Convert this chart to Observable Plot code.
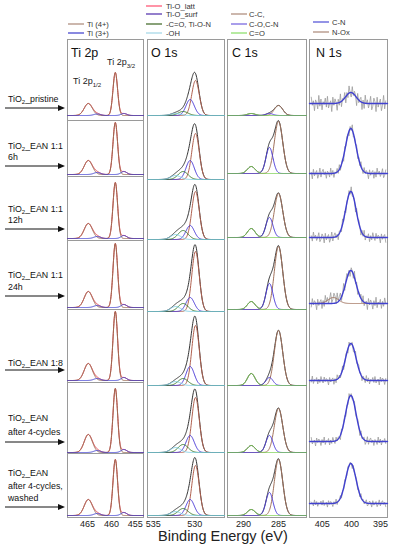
<!DOCTYPE html>
<html><head><meta charset="utf-8">
<script src="https://cdn.jsdelivr.net/npm/d3@7"></script>
<script src="https://cdn.jsdelivr.net/npm/@observablehq/plot@0.6"></script>
<style>
body{margin:0;background:#fff;font-family:"Liberation Sans",Arial,sans-serif;}
#fig{position:relative;width:394px;height:550px;overflow:hidden;background:#fff}
</style></head><body><div id="fig"></div>
<script>
// ---------- DATA ----------
const sampleLabels = [["TiO2_pristine"],["TiO2_EAN 1:1","6h"],["TiO2_EAN 1:1","12h"],["TiO2_EAN 1:1","24h"],["TiO2_EAN 1:8"],["TiO2_EAN","after 4-cycles"],["TiO2_EAN","after 4-cycles,","washed"]];
const panelTitles = ["Ti 2p","O 1s","C 1s","N 1s"];
const tiTicks = [465,460,455];
const oTicks = [535,530];
const cTicks = [290,285];
const nTicks = [405,400,395];

// Ti 2p : peak centres (eV), widths (sigma, eV), heights per sample (a.u.)
const ti4Centers = [459.2, 464.85];
const ti4Sigmas = [0.48, 0.85];
const ti4_2p32 = [43, 52, 56, 64, 69, 64, 56];
const ti4_2p12 = [12, 14, 15, 16, 17, 18, 16];
const ti3Centers = [457.4, 463.0];
const ti3Sigmas = [0.6, 0.7];
const ti3_2p32 = [2, 3, 3, 3, 3, 3, 3];
const ti3_2p12 = [1.5, 2, 2, 2, 2, 2, 2];

// O 1s
const oCenters = {latt: 529.9, surf: 530.55, co: 531.4, oh: 532.3};
const oSigmas = {latt: 0.45, surf: 0.5, co: 0.6, oh: 0.6};
const oLatt = [35, 46, 48, 60, 60, 55, 50];
const oSurf = [16, 19, 14, 14, 19, 17, 16];
const oCO = [4, 8, 9, 8, 7, 8, 7];
const oOH = [2, 4, 5, 5, 4, 5, 4];

// C 1s
const cCenters = {cc: 285.0, co: 286.3, c_o: 288.9};
const cSigmas = {cc: 0.6, co: 0.5, c_o: 0.55};
const cCC = [10, 52, 44, 63, 55, 44, 56];
const cCO = [2, 26, 20, 26, 8, 17, 23];
const cC_O = [2, 7, 9, 8, 12, 7, 6];

// N 1s
const nCenters = {cn: 400.1, nox: 403.1};
const nSigmas = {cn: 0.9, nox: 0.9};
const nCN = [11, 45, 46, 33, 37, 46, 40];
const nNOx = [0, 0, 0, 6, 0, 0, 0];
const nNoiseAmp = [9, 6, 6, 7, 5, 5, 4];
const nNoise = [0.3,-0.6,0.9,-0.2,-0.8,0.5,0.1,-0.4,0.7,-0.9,0.2,0.6,-0.3,-0.7,0.8,0.0,-0.5,0.4,-0.1,0.9,-0.6,0.3,-0.8,0.5,0.2,-0.3,0.6,-0.9,0.1,0.4,-0.2,0.7,-0.5,0.0,0.8,-0.4,0.3,-0.7,0.6,-0.1,0.2,-0.6,0.9,-0.3,0.4,-0.8,0.1,0.5,-0.2,0.7,-0.9,0.3,0.0,-0.5,0.8,-0.4,0.6,-0.1,0.2,-0.7,0.5,-0.3,0.9,-0.6,0.1,0.4,-0.8,0.3,-0.2,0.7];

// ---------- LAYOUT ----------
const TOP = 39, BOT = 517;
const fig = document.getElementById("fig");
const gauss = (e, c, s) => Math.exp(-((e - c) ** 2) / (2 * s * s));

const columns = [
  {box:[67,143], domain:[469.2,453.3], ticks:tiTicks, baselines:[115,174,238,307,380,452,515], separators:[120,176,240,309,382,453],
   envelope:{color:"#e8404f", width:1},
   comps:[
     {color:"#9a6a50", width:1, peaks:[{c:ti4Centers[0], s:ti4Sigmas[0], h:ti4_2p32},{c:ti4Centers[1], s:ti4Sigmas[1], h:ti4_2p12}]},
     {color:"#4040d0", width:1, peaks:[{c:ti3Centers[0], s:ti3Sigmas[0], h:ti3_2p32},{c:ti3Centers[1], s:ti3Sigmas[1], h:ti3_2p12}]}
   ]},
  {box:[147,224], domain:[535.7,526.4], ticks:oTicks, baselines:[115,179,239,311,385,452,515],
   envelope:{color:"#333", width:1},
   comps:[
     {color:"#b0604f", width:1, peaks:[{c:oCenters.latt, s:oSigmas.latt, h:oLatt}]},
     {color:"#4a3ad8", width:1, peaks:[{c:oCenters.surf, s:oSigmas.surf, h:oSurf}]},
     {color:"#3a7a2a", width:1, peaks:[{c:oCenters.co, s:oSigmas.co, h:oCO}]},
     {color:"#80d0e8", width:1, peaks:[{c:oCenters.oh, s:oSigmas.oh, h:oOH}]}
   ]},
  {box:[227,306], domain:[292.3,281.0], ticks:cTicks, baselines:[115,173,237,309,385,452,515],
   envelope:{color:"#333", width:1},
   comps:[
     {color:"#a0705a", width:1, peaks:[{c:cCenters.cc, s:cSigmas.cc, h:cCC}]},
     {color:"#4a3ad8", width:1, peaks:[{c:cCenters.co, s:cSigmas.co, h:cCO}]},
     {color:"#7ad050", width:1, peaks:[{c:cCenters.c_o, s:cSigmas.c_o, h:cC_O}]}
   ]},
  {box:[309,387], domain:[407.2,393.8], ticks:nTicks, baselines:[103,173,237,303,380,441,503],
   raw:true,
   comps:[
     {color:"#a0705a", width:1, peaks:[{c:nCenters.nox, s:nSigmas.nox, h:nNOx}], skipZero:true},
     {color:"#4040d0", width:1.4, peaks:[{c:nCenters.cn, s:nSigmas.cn, h:nCN}]}
   ]}
];

function buildColumn(col) {
  const [x0, x1] = col.box;
  const ml = 14, mr = 14, mt = 1, mb = 24;
  const W = x1 - x0 + ml + mr, H = BOT - TOP + mt + mb;
  const lo = Math.min(...col.domain), hi = Math.max(...col.domain);
  const es = d3.range(lo, hi + 1e-9, 0.04);
  const marks = [];
  const envData = [], rawData = [];
  const compData = col.comps.map(() => []);
  col.baselines.forEach((b, r) => {
    const off = BOT - b;
    es.forEach(e => {
      let sum = 0;
      col.comps.forEach((cp, k) => {
        let v = 0;
        cp.peaks.forEach(p => v += p.h[r] * gauss(e, p.c, p.s));
        sum += v;
        if (!(cp.skipZero && cp.peaks.every(p => p.h[r] === 0)))
          compData[k].push({e, y: off + v, row: r});
      });
      envData.push({e, y: off + sum, row: r});
    });
    if (col.raw) {
      const n = nNoise.length;
      const step = (hi - lo) / (n - 1);
      for (let i = 0; i < n; i++) {
        const e = lo + 0.3 + i * (hi - lo - 0.6) / (n - 1);
        let sum = 0;
        col.comps.forEach(cp => cp.peaks.forEach(p => sum += p.h[r] * gauss(e, p.c, p.s)));
        rawData.push({e, y: off + sum + nNoiseAmp[r] * nNoise[(i + r * 11) % n], row: r});
      }
    }
  });
  marks.push(Plot.frame({stroke: "#9a9a9a"}));
  if (col.separators) marks.push(Plot.ruleY(col.separators.map(p => BOT - p), {stroke: "#9a9a9a"}));
  if (col.raw) marks.push(Plot.line(rawData, {x: "e", y: "y", z: "row", stroke: "#9c9c9c", strokeWidth: 0.8}));
  if (col.envelope) marks.push(Plot.line(envData, {x: "e", y: "y", z: "row", stroke: col.envelope.color, strokeWidth: col.envelope.width}));
  col.comps.forEach((cp, k) => marks.push(Plot.line(compData[k], {x: "e", y: "y", z: "row", stroke: cp.color, strokeWidth: cp.width})));
  marks.push(Plot.axisX({ticks: col.ticks, tickSize: 0, tickPadding: 3, label: null, fontSize: 9, fill: "#222"}));
  const svg = Plot.plot({
    width: W, height: H,
    marginLeft: ml, marginRight: mr, marginTop: mt, marginBottom: mb,
    x: {domain: col.domain},
    y: {domain: [0, BOT - TOP], axis: null},
    style: {fontSize: "9px", fontFamily: "Liberation Sans, Arial, sans-serif", background: "transparent", overflow: "visible"},
    marks
  });
  svg.style.position = "absolute";
  svg.style.left = (x0 - ml) + "px";
  svg.style.top = (TOP - mt) + "px";
  fig.appendChild(svg);
}
columns.forEach(buildColumn);

// ---------- ANNOTATION OVERLAY ----------
const ov = d3.create("svg").attr("width", 394).attr("height", 550)
  .style("position", "absolute").style("left", "0px").style("top", "0px")
  .style("font-family", "Liberation Sans, Arial, sans-serif");

// legends
const legends = [
  {x:68, tx:87, items:[["Ti (4+)","#b09080",24],["Ti (3+)","#4a4ad0",33]]},
  {x:146, tx:166, items:[["Ti-O_latt","#ff5a78",6],["Ti-O_surf","#5a3ab0",14],["-C=O, Ti-O-N","#4a7030",24],["-OH","#a8d8e8",33]]},
  {x:231, tx:249, items:[["C-C,","#b09080",14],["C-O,C-N","#7a6ae0",24],["C=O","#90e070",33]]},
  {x:313, tx:332, items:[["C-N","#5a5ad8",22],["N-Ox","#b09080",32]]}
];
legends.forEach(L => L.items.forEach(([t, c, y]) => {
  ov.append("line").attr("x1", L.x).attr("x2", L.x + 16).attr("y1", y).attr("y2", y).attr("stroke", c).attr("stroke-width", 1.3);
  ov.append("text").attr("x", L.tx).attr("y", y + 2.7).attr("font-size", 7.6).attr("fill", "#333").text(t);
}));

// panel titles
[[71,"Ti 2p"],[151,"O 1s"],[232,"C 1s"],[316,"N 1s"]].forEach(([x, t], i) =>
  ov.append("text").attr("x", x).attr("y", 57).attr("font-size", 12.5).attr("fill", "#111").text(panelTitles[i]));

// Ti 2p peak labels
function subText(x, y, main, sub, fs) {
  const t = ov.append("text").attr("x", x).attr("y", y).attr("font-size", fs).attr("fill", "#222");
  t.append("tspan").text(main);
  t.append("tspan").attr("font-size", fs * 0.68).attr("dy", 2.5).text(sub);
}
subText(107, 65, "Ti 2p", "3/2", 9);
subText(73, 84, "Ti 2p", "1/2", 9);

// sample labels with arrows
const labelBaselines = [[102],[149,160],[212,223],[278,290],[366],[421,435],[476,489,501]];
const arrowY = [108,166,229,296,370,442,507];
sampleLabels.forEach((lines, r) => {
  lines.forEach((ln, j) => {
    const t = ov.append("text").attr("x", 8).attr("y", labelBaselines[r][j]).attr("font-size", 8.8).attr("fill", "#111");
    if (ln.startsWith("TiO2")) {
      t.append("tspan").text("TiO");
      t.append("tspan").attr("font-size", 6).attr("dy", 2).text("2");
      t.append("tspan").attr("dy", -2).text(ln.slice(4));
    } else t.text(ln);
  });
  const y = arrowY[r];
  ov.append("line").attr("x1", 5).attr("x2", 58).attr("y1", y).attr("y2", y).attr("stroke", "#111").attr("stroke-width", 1);
  ov.append("path").attr("d", `M58,${y - 3}L65,${y}L58,${y + 3}Z`).attr("fill", "#111");
});

// axis title
ov.append("text").attr("x", 223).attr("y", 541).attr("text-anchor", "middle").attr("font-size", 14.5).attr("fill", "#222").text("Binding Energy (eV)");

fig.appendChild(ov.node());
</script></body></html>
